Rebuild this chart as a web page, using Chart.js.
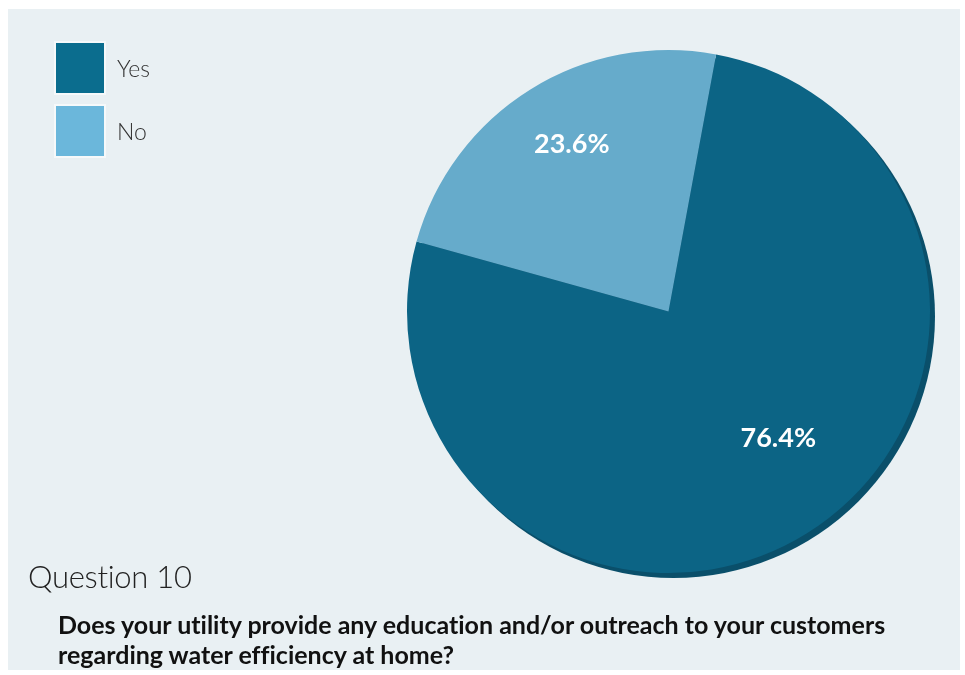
<!DOCTYPE html>
<html>
<head>
<meta charset="utf-8">
<script src="https://cdn.jsdelivr.net/npm/chart.js@4"></script>
<style>
  html, body { margin: 0; padding: 0; background: #ffffff; }
  #panel {
    position: absolute; left: 8px; top: 9px; width: 952px; height: 661px;
    background: #e9f0f3;
  }
  #wrap { position: absolute; left: 0; top: 0; width: 965px; height: 675px; }
  #legend { position: absolute; left: 56px; top: 43px; }
  .item { display: flex; align-items: center; height: 50px; margin-bottom: 13px; }
  .box { width: 48px; height: 50px; box-shadow: 0 0 0 2px #f6f9fa; }
  .lbl { margin-left: 13px; font-family: Lato, sans-serif; font-weight: 300; font-size: 23px; color: #333; }
  #q { position: absolute; left: 28px; top: 557px; font-family: Lato, sans-serif; font-weight: 300;
       font-size: 31px; color: #222; letter-spacing: -0.3px; }
  #desc { position: absolute; left: 58px; top: 609px; width: 900px; font-family: Lato, sans-serif;
          font-weight: 700; font-size: 25px; line-height: 30px; color: #111; letter-spacing: 0px;
          font-variant-ligatures: none; }
</style>
</head>
<body>
<div id="panel"></div>
<div id="wrap"><canvas id="pieChart" width="965" height="675"></canvas></div>
<div id="legend"></div>
<div id="q">Question 10</div>
<div id="desc">Does your utility provide any education and/or outreach to your customers<br>regarding water efficiency at home?</div>
<script>
// Data for Chart
const answers = ['Yes', 'No'];
const shares = [76.4, 23.6];
const sliceColors = ['#0c6485', '#66abcb'];
const legendColors = ['#0b6d8e', '#6bb7db'];

// HTML legend
const legendEl = document.getElementById('legend');
answers.forEach((a, i) => {
    const row = document.createElement('div');
    row.className = 'item';
    row.innerHTML = '<div class="box" style="background:' + legendColors[i] + '"></div><span class="lbl">' + a + '</span>';
    legendEl.appendChild(row);
});

// darker rim on the lower right of the pie
const rimShadow = {
    id: 'rimShadow',
    beforeDatasetsDraw(chart) {
        const arc = chart.getDatasetMeta(0).data[0];
        const ctx = chart.ctx;
        ctx.save();
        ctx.beginPath();
        ctx.arc(arc.x + 5, arc.y + 5, arc.outerRadius, 0, Math.PI * 2);
        ctx.fillStyle = '#0a4f6a';
        ctx.fill();
        ctx.restore();
    }
};

// percentage labels inside the slices
const labelPlace = [{ r: 0.64, shift: -9 }, { r: 0.74, shift: 2 }];
const sliceLabels = {
    id: 'sliceLabels',
    afterDatasetsDraw(chart) {
        const ctx = chart.ctx;
        const meta = chart.getDatasetMeta(0);
        ctx.save();
        ctx.font = 'bold 27px Lato, sans-serif';
        ctx.fillStyle = '#ffffff';
        ctx.textAlign = 'center';
        ctx.textBaseline = 'middle';
        meta.data.forEach((arc, i) => {
            const mid = (arc.startAngle + arc.endAngle) / 2 + labelPlace[i].shift * Math.PI / 180;
            const r = arc.outerRadius * labelPlace[i].r;
            ctx.fillText(shares[i].toFixed(1) + '%', arc.x + r * Math.cos(mid), arc.y + r * Math.sin(mid));
        });
        ctx.restore();
    }
};

const pieCtx = document.getElementById('pieChart').getContext('2d');
new Chart(pieCtx, {
    type: 'pie',
    data: {
        labels: answers,
        datasets: [{
            data: shares,
            backgroundColor: sliceColors,
            borderWidth: 0,
        }]
    },
    options: {
        responsive: false,
        animation: false,
        rotation: 10.5,
        layout: { padding: { left: 407, right: 35, top: 50, bottom: 102 } },
        plugins: {
            legend: { display: false },
            tooltip: { enabled: false }
        }
    },
    plugins: [rimShadow, sliceLabels]
});
</script>
</body>
</html>
